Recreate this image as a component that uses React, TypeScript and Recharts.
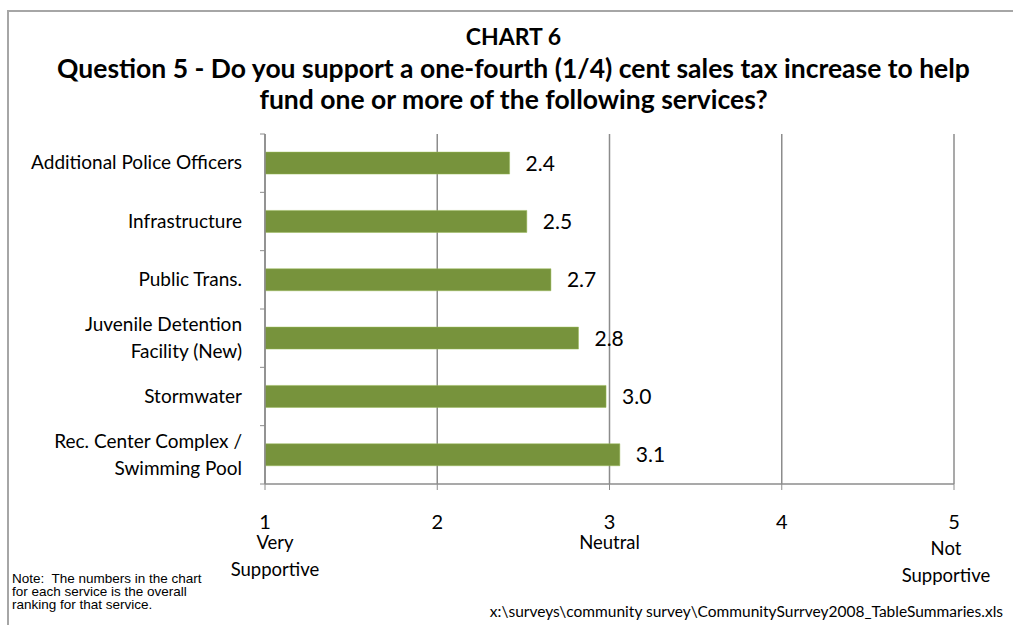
import { Bar, BarChart, CartesianGrid, LabelList, XAxis, YAxis } from "recharts";

const services = [
  "Additional Police Officers",
  "Infrastructure",
  "Public Trans.",
  "Juvenile Detention|Facility (New)",
  "Stormwater",
  "Rec. Center Complex /|Swimming Pool",
];
const ratings = [2.42, 2.52, 2.66, 2.82, 2.98, 3.06];
const scaleTicks = [1, 2, 3, 4, 5];
const scaleNotes: Record<number, string[]> = {
  1: ["Very", "Supportive"],
  3: ["Neutral"],
  5: ["Not", "Supportive"],
};

const data = services.map((s, i) => ({ service: s, rating: ratings[i] }));

const FONT = "Lato, 'Open Sans', sans-serif";
const GREY = "#8c8c8c";
const TOP = 134;
const BOTTOM = 141;
const HEIGHT = 625;
const BAND = (HEIGHT - TOP - BOTTOM) / services.length;

function ServiceTick(props: any) {
  const { x, y, payload, index } = props;
  const lines = String(payload.value).split("|");
  const axisX = x + 8;
  return (
    <g>
      <line x1={axisX - 5} x2={axisX} y1={y - BAND / 2} y2={y - BAND / 2} stroke={GREY} />
      {index === services.length - 1 && (
        <line x1={axisX - 5} x2={axisX} y1={y + BAND / 2} y2={y + BAND / 2} stroke={GREY} />
      )}
      <text x={x - 15} y={y} textAnchor="end" fontFamily={FONT} fontSize={19} fill="#000">
        {lines.map((l, i) => (
          <tspan key={i} x={x - 15} dy={i === 0 ? (lines.length === 1 ? 6 : -7) : 27}>
            {l}
          </tspan>
        ))}
      </text>
    </g>
  );
}

function ScaleTick(props: any) {
  const { x, y, payload } = props;
  const notes = scaleNotes[payload.value] ?? [];
  return (
    <g>
      <text x={x} y={y + 37} textAnchor="middle" fontFamily={FONT} fontSize={20} fill="#000">
        {payload.value}
      </text>
      {notes.map((n, i) => (
        <text
          key={n}
          x={x + (payload.value === 3 ? 0 : payload.value === 1 ? 10 : -8)}
          y={y + (payload.value === 5 ? 63 : 57) + i * 27}
          textAnchor="middle"
          fontFamily={FONT}
          fontSize={18.5}
          fill="#000"
        >
          {n}
        </text>
      ))}
    </g>
  );
}

export default function App() {
  return (
    <div style={{ position: "absolute", left: 0, top: 0, width: 1013, height: 625, background: "#fff" }}>
      <div
        style={{
          position: "absolute",
          left: 7,
          top: 10,
          width: 1006,
          height: 615,
          borderLeft: "2px solid #a6a6a6",
          borderTop: "2px solid #a6a6a6",
        }}
      />
      <div
        style={{
          position: "absolute",
          left: 0,
          width: 1027,
          top: 21,
          textAlign: "center",
          fontFamily: FONT,
          fontWeight: 700,
          color: "#000",
        }}
      >
        <div style={{ fontSize: 23, lineHeight: "30px" }}>CHART 6</div>
        <div style={{ fontSize: 26.5, lineHeight: "31px", marginTop: 2 }}>
          Question 5 - Do you support a one-fourth (1/4) cent sales tax increase to help
          <br />
          fund one or more of the following services?
        </div>
      </div>
      <BarChart
        width={1013}
        height={HEIGHT}
        data={data}
        layout="vertical"
        margin={{ top: TOP, right: 59, bottom: 0, left: 15 }}
        barCategoryGap="31%"
        style={{ position: "absolute", left: 0, top: 0 }}
      >
        <CartesianGrid horizontal={false} stroke={GREY} strokeWidth={1.5} />
        <XAxis
          type="number"
          domain={[1, 5]}
          ticks={scaleTicks}
          allowDataOverflow
          height={BOTTOM}
          axisLine={{ stroke: GREY, strokeWidth: 1.5 }}
          tickLine={{ stroke: GREY }}
          tickSize={6}
          tick={<ScaleTick />}
        />
        <YAxis
          type="category"
          dataKey="service"
          width={250}
          axisLine={{ stroke: GREY, strokeWidth: 1.5 }}
          tickLine={false}
          tick={<ServiceTick />}
          interval={0}
        />
        <Bar dataKey="rating" fill="#77933c" stroke="#9bbb59" strokeWidth={0.5} isAnimationActive={false}>
          <LabelList
            dataKey="rating"
            position="right"
            offset={16}
            formatter={(v: any) => Number(v).toFixed(1)}
            style={{ fontFamily: FONT, fontSize: 21, fill: "#000" }}
          />
        </Bar>
      </BarChart>
      <div
        style={{
          position: "absolute",
          left: 12,
          top: 572,
          fontFamily: "'Liberation Sans', Arial, sans-serif",
          fontSize: 13.5,
          lineHeight: "13px",
          color: "#000",
        }}
      >
        Note:&nbsp; The numbers in the chart
        <br />
        for each service is the overall
        <br />
        ranking for that service.
      </div>
      <div
        style={{
          position: "absolute",
          right: 10,
          top: 602,
          fontFamily: FONT,
          fontSize: 15.5,
          color: "#000",
        }}
      >
        x:\surveys\community survey\CommunitySurrvey2008_TableSummaries.xls
      </div>
    </div>
  );
}
